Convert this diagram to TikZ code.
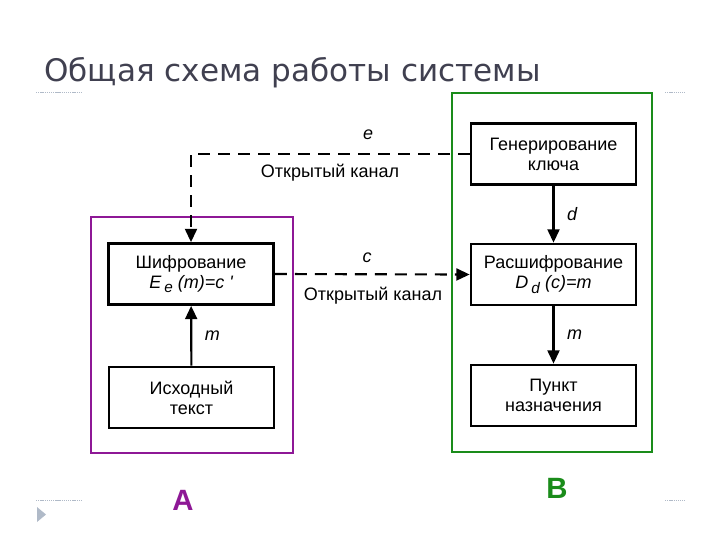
\documentclass[tikz,border=0pt]{standalone}
\usepackage{fontspec}
\setmainfont{Liberation Sans}
\newfontfamily\titlefont{DejaVu Sans}
\usepackage{tikz}
\usetikzlibrary{arrows.meta}

\definecolor{sidea}{RGB}{142,24,150}
\definecolor{sideb}{RGB}{26,140,26}
\definecolor{titlegray}{RGB}{64,64,80}
\definecolor{rulegray}{RGB}{176,186,200}

\begin{document}
\begin{tikzpicture}[x=0.75pt,y=-0.75pt]
  \tikzset{block/.style = {draw,line width=1.8pt,minimum width=124pt,minimum height=46pt,align=center,
      font=\fontsize{13.5}{15}\selectfont,inner sep=1pt}}
  \tikzset{flow/.style = {line width=1.6pt,-{Triangle[length=10pt,width=9pt]}}}
  \tikzset{channel/.style = {flow,dash pattern=on 9pt off 6pt}}
  \tikzset{lbl/.style = {font=\fontsize{13.5}{15}\selectfont\itshape}}
  \tikzset{side/.style = {draw,line width=2.2pt}}
  \tikzset{rule/.style = {draw=rulegray,line width=0.6pt,dash pattern=on 1pt off 0.6pt}}
  \newcommand{\lowsub}[1]{\raisebox{-0.5ex}{\fontsize{11.5}{12}\selectfont #1}}

  \useasboundingbox (0,0) rectangle (720,540);

  % title and slide decoration
  \node[anchor=base west,inner sep=0pt,text=titlegray,font=\titlefont\fontsize{23.3}{26}\selectfont]
    (title) at (44,81) {Общая схема работы системы};
  \draw[rule] (36,92) -- (82,92);
  \draw[rule] (665,92) -- (685,92);
  \draw[rule] (36,500) -- (82,500);
  \draw[rule] (665,500) -- (685,500);
  \fill[rulegray] (37,507) -- (46,514.5) -- (37,522) -- cycle;

  % parties
  \draw[side,sidea] (91,217) rectangle (293,453);
  \draw[side,sideb] (452,93) rectangle (652,452);
  \node[text=sidea,font=\fontsize{22}{24}\selectfont\bfseries] (A) at (183,500) {A};
  \node[text=sideb,font=\fontsize{22}{24}\selectfont\bfseries] (B) at (557,488) {B};

  % blocks
  \node[block] (enc) at (191,274) {Шифрование\\{\itshape E\,\lowsub{e} (m)=c \textquotesingle}};
  \node[block] (src) at (191.5,397.5) {Исходный\\текст};
  \node[block] (key) at (553.5,154) {Генерирование\\ключа};
  \node[block] (dec) at (553.5,274.5) {Расшифрование\\{\itshape D\,\lowsub{d} (c)=m}};
  \node[block] (dst) at (553.5,395.5) {Пункт\\назначения};

  % links
  \foreach \from/\to/\txt in {src/enc/m,key/dec/d,dec/dst/m}
    \draw[flow] (\from) -- node[lbl,right=6pt] {\txt} (\to);

  \draw[channel] (key.west) -| (enc.north);
  \node[lbl] (e) at (368,135) {e};
  \node[font=\fontsize{13.5}{15}\selectfont] (open1) at (330,173) {Открытый канал};

  \draw[channel] (enc.east) -- (dec.west);
  \node[lbl] (c) at (367,258) {c};
  \node[font=\fontsize{13.5}{15}\selectfont] (open2) at (373,296) {Открытый канал};
\end{tikzpicture}
\end{document}
